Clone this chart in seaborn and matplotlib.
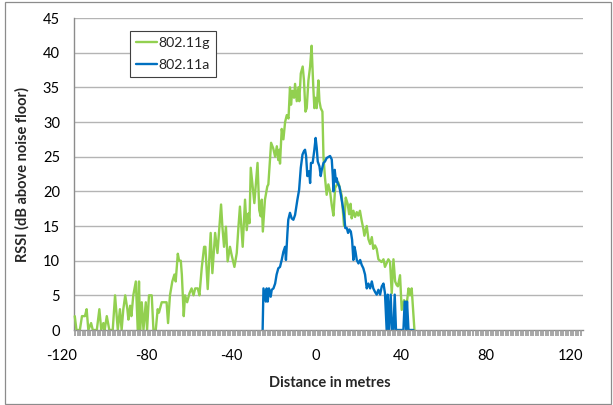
import numpy as np
import pandas as pd
import matplotlib
matplotlib.use("Agg")
import matplotlib.pyplot as plt
import seaborn as sns
from matplotlib.patches import Rectangle

# ---- data ----
g_x = [-113.8, -113.0, -111.4, -110.4, -109.0, -108.2, -107.4, -106.1, -105.3, -103.4,
       -102.2, -101.3, -100.3, -99.7, -98.7, -97.5, -95.9, -94.8, -93.5, -92.5,
       -91.7, -90.9, -90.0, -89.0, -88.5, -87.7, -87.1, -86.2, -85.0, -84.1,
       -83.5, -83.0, -82.2, -81.4, -80.3, -79.7, -78.8, -77.5, -76.7, -75.6,
       -74.7, -74.1, -72.8, -71.5, -70.5, -69.8, -68.9, -67.8, -66.8, -66.2,
       -65.2, -64.6, -63.8, -63.3, -62.4, -61.8, -60.8, -59.7, -58.7, -57.8,
       -57.0, -55.8, -55.0, -53.9, -52.8, -52.2, -51.1, -49.7, -48.9, -47.6,
       -46.5, -45.8, -44.8, -44.2, -43.4, -42.5, -41.7, -40.6, -39.8, -38.5,
       -37.4, -36.6, -35.9, -34.6, -33.5, -32.7, -31.9, -31.4, -30.8, -29.1,
       -27.6, -26.8, -26.1, -25.6, -25.1, -24.1, -23.0, -22.5, -21.2, -20.2,
       -19.3, -18.5, -17.8, -17.3, -17.0, -16.2, -15.4, -14.6, -13.8, -13.0,
       -12.3, -11.8, -11.2, -10.4, -9.9, -9.1, -8.3, -7.9, -7.2, -6.3,
       -5.7, -5.0, -4.4, -3.6, -2.8, -2.1, -1.3, -0.8, -0.4, 0.3,
       1.1, 1.6, 2.2, 3.0, 3.5, 4.2, 5.0, 5.8, 6.6, 7.4,
       8.2, 9.0, 10.5, 12.1, 13.2, 14.0, 14.9, 15.6, 16.3, 16.8,
       17.6, 18.4, 19.2, 19.9, 20.7, 21.5, 22.3, 22.8, 23.9, 24.7,
       25.5, 26.3, 27.0, 27.8, 28.6, 29.4, 30.9, 31.8, 32.5, 34.1,
       34.9, 35.7, 36.5, 37.3, 38.0, 38.6, 39.6, 40.4, 41.5, 42.8,
       43.6, 44.3, 45.1, 46.4]
g_y = [2, 0, 0, 2, 2, 3, 0, 1, 0, 0,
       3, 0, 1, 0, 2, 0, 0, 5, 0, 3,
       0, 3, 5, 3, 1.5, 3.5, 2, 5, 7, 0,
       7, 0, 4, 0, 4, 0, 5, 5, 0, 0,
       3, 2.5, 4, 4, 4, 1, 5, 7, 8, 7,
       11, 10, 10, 8, 2, 5, 4, 5.3, 6, 5,
       6, 6, 5, 9, 12, 12, 5.9, 14.0, 8.2, 14.0,
       11.1, 14.0, 18.1, 15.0, 12.0, 14.9, 9.9, 12.0, 10.8, 9.1,
       11.1, 14.9, 17.8, 12.0, 18.8, 14.4, 16.8, 15.4, 23.4, 18.3,
       24.1, 17.3, 16.4, 18.8, 14.2, 18.8, 20.7, 21.0, 27.0, 26.2,
       25.0, 26.5, 24.5, 26.0, 24.0, 29.0, 27.5, 30.0, 31.0, 30.5,
       35.0, 32.5, 34.5, 33.5, 35.5, 33.0, 35.0, 33.0, 37.0, 38.0,
       36.0, 31.5, 32.0, 36.0, 38.0, 41.0, 35.0, 32.0, 33.5, 32.0,
       36.0, 33.0, 32.0, 31.5, 25.0, 22.0, 19.5, 21.0, 20.0, 18.0,
       16.5, 20.5, 21.3, 19.4, 15.0, 19.1, 18.2, 16.7, 18.2, 16.1,
       17.2, 16.3, 17.0, 16.5, 17.2, 15.8, 14.6, 13.6, 15.0, 13.1,
       12.4, 13.4, 11.7, 12.2, 11.7, 10.2, 9.8, 10.2, 9.1, 10.2,
       9.8, 5.3, 10.2, 7.0, 6.5, 6.3, 7.9, 2.9, 4.3, 3.8,
       6.0, 5.0, 6.0, 0]

a_x = [-25.2, -24.8, -23.7, -23.3, -22.8, -22.2, -21.4, -20.9, -20.1, -19.3,
       -18.6, -17.8, -17.0, -16.2, -15.4, -14.6, -14.2, -13.5, -13.1, -12.3,
       -11.5, -10.7, -9.9, -8.8, -8.0, -7.2, -6.4, -5.7, -5.2, -4.7,
       -4.1, -3.3, -2.8, -2.4, -1.6, -0.8, -0.2, 0.3, 0.8, 1.6,
       2.2, 2.7, 3.5, 4.2, 5.0, 6.6, 7.4, 7.9, 8.2, 8.8,
       9.4, 9.7, 10.2, 11.0, 11.8, 12.6, 13.2, 13.8, 14.5, 15.1,
       15.7, 16.4, 17.0, 17.6, 18.1, 18.6, 19.2, 20.0, 20.8, 21.5,
       22.3, 23.1, 23.9, 24.7, 25.5, 26.3, 27.0, 27.8, 28.6, 29.4,
       30.2, 31.0, 31.8, 32.5, 33.3, 33.8, 34.4, 35.2, 35.8, 36.5,
       37.1, 37.7, 38.8, 41.2, 41.8, 42.5, 42.9, 43.6, 45.9]
a_y = [0, 6.0, 4.1, 6.0, 4.1, 6.0, 4.8, 5.8, 6.0, 6.7,
       8.0, 8.9, 9.1, 10.1, 11.3, 12.0, 10.1, 14.0, 15.9, 16.9,
       16.1, 15.9, 16.6, 18.8, 20.2, 23.4, 25.3, 25.8, 26.0, 25.1,
       22.2, 22.9, 21.2, 24.1, 24.1, 26.0, 27.7, 26.3, 24.3, 23.6,
       22.2, 23.1, 24.1, 24.3, 24.8, 25.1, 24.6, 22.2, 20.0, 23.1,
       21.4, 21.9, 21.2, 20.7, 19.3, 17.8, 16.6, 14.7, 14.7, 14.0,
       14.5, 14.2, 13.0, 10.1, 12.0, 11.3, 10.1, 9.6, 10.1, 9.4,
       8.9, 8.0, 6.0, 6.7, 6.0, 7.0, 6.0, 5.5, 5.1, 5.8,
       5.1, 6.3, 6.7, 5.3, 0, 5.1, 0, 5.1, 0, 0,
       5.1, 0, 0, 0, 4.1, 0, 4.1, 0, 0]

series_names = ["802.11g", "802.11a"]
series_colors = ["#92D050", "#0070C0"]
x_ticks = [-120, -80, -40, 0, 40, 80, 120]
y_ticks = [0, 5, 10, 15, 20, 25, 30, 35, 40, 45]

df = pd.concat([
    pd.DataFrame({"Distance": g_x, "RSSI": g_y, "Series": series_names[0]}),
    pd.DataFrame({"Distance": a_x, "RSSI": a_y, "Series": series_names[1]}),
], ignore_index=True)

# ---- style ----
sns.set_style("white")
plt.rcParams["font.family"] = ["Lato", "DejaVu Sans"]

W, H = 613, 405
fig = plt.figure(figsize=(W / 100, H / 100), dpi=100)
ax_left_px, ax_right_px, ax_top_px, ax_bot_px = 59.5, 583, 18, 330
ax = fig.add_axes([ax_left_px / W, 1 - ax_bot_px / H,
                   (ax_right_px - ax_left_px) / W, (ax_bot_px - ax_top_px) / H])

x_start, x_end = -114.2, 125.9
ax.set_xlim(-121.0, x_end)
ax.set_ylim(0, 45)

# gridlines starting at the (moved) y axis
for yv in y_ticks[1:]:
    ax.hlines(yv, x_start, x_end, colors="#b4b4b4", linewidth=1.0, zorder=0.5)

sns.lineplot(data=df, x="Distance", y="RSSI", hue="Series", hue_order=series_names,
             palette=series_colors, sort=False, estimator=None, linewidth=1.7,
             ax=ax, legend=True, zorder=3)

# spines
for s in ["top", "right"]:
    ax.spines[s].set_visible(False)
ax.spines["left"].set_position(("data", x_start))
ax.spines["left"].set_color("#8c8c8c")
ax.spines["left"].set_linewidth(1.0)
ax.spines["bottom"].set_bounds(x_start, x_end)
ax.spines["bottom"].set_color("#8c8c8c")
ax.spines["bottom"].set_linewidth(1.0)
ax.spines["bottom"].set_zorder(4)

ax.set_xticks(x_ticks)
ax.set_xticklabels([str(v) for v in x_ticks])
ax.set_yticks(y_ticks)
ax.set_yticklabels([str(v) for v in y_ticks])
ax.tick_params(axis="x", which="major", length=0, pad=14, labelsize=10.5, colors="black")
ax.tick_params(axis="y", which="both", length=0, pad=10, labelsize=10.5, colors="black")

# category tick-mark band under the x axis (Excel style)
band_x = np.arange(x_start + 0.6, x_end, 1.18)
band_h = 5.5 / (ax_bot_px - ax_top_px)
ax.vlines(band_x, -band_h, 0, transform=ax.get_xaxis_transform(), colors="#9c9c9c",
          linewidth=1.25, clip_on=False, zorder=5)

ax.set_xlabel("Distance in metres", fontsize=10.5, fontweight="bold")
ax.set_ylabel("RSSI (dB above noise floor)", fontsize=10.5, fontweight="bold")
ax.xaxis.set_label_coords((329.5 - ax_left_px) / (ax_right_px - ax_left_px),
                          (ax_bot_px - 376) / (ax_bot_px - ax_top_px))
ax.yaxis.set_label_coords((30 - ax_left_px) / (ax_right_px - ax_left_px), 0.5)

handles, labels = ax.get_legend_handles_labels()
leg = ax.legend(handles, labels, loc="upper left",
                bbox_to_anchor=((130 - ax_left_px) / (ax_right_px - ax_left_px),
                                1 - (31 - ax_top_px) / (ax_bot_px - ax_top_px)),
                frameon=True, fancybox=False, framealpha=1, edgecolor="#404040",
                handlelength=1.45, handletextpad=0.1, borderpad=0.45,
                labelspacing=0.65, fontsize=10.2, borderaxespad=0)
leg.get_frame().set_linewidth(0.8)
for line in leg.get_lines():
    line.set_linewidth(1.7)

# chart-area border
fig.patches.append(Rectangle((4.5 / W, 1.5 / H), 606 / W, 402 / H, transform=fig.transFigure,
                             fill=False, edgecolor="#8c8c8c", linewidth=0.9))

fig.savefig("out.png", dpi=100)
